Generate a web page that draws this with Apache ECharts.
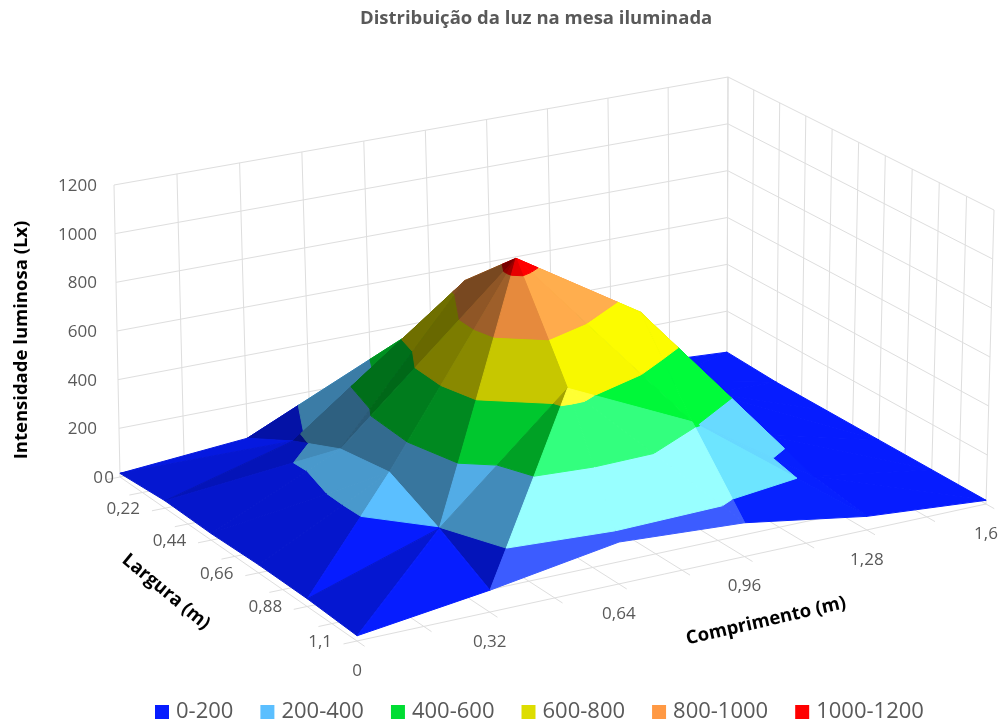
<!DOCTYPE html>
<html>
<head>
<meta charset="UTF-8">
<title>Distribuição da luz na mesa iluminada</title>
<script src="https://cdn.jsdelivr.net/npm/echarts@6/dist/echarts.min.js"></script>
<style>html,body{margin:0;padding:0;background:#fff}</style>
</head>
<body>
<div id="main" style="width:1002px;height:724px"></div>
<script>
// eixos
var comprimento = [0, 0.32, 0.64, 0.96, 1.28, 1.6];
var largura = [0, 0.22, 0.44, 0.66, 0.88, 1.1];
var compGrid = [0, 0.16, 0.32, 0.48, 0.64, 0.8, 0.96, 1.12, 1.28, 1.44, 1.6];
var largGrid = [0, 0.11, 0.22, 0.33, 0.44, 0.55, 0.66, 0.77, 0.88, 0.99, 1.1];
var luxTicks = [0, 200, 400, 600, 800, 1000, 1200];
var compLabels = ['0', '0,32', '0,64', '0,96', '1,28', '1,6'];
var largLabels = ['0', '0,22', '0,44', '0,66', '0,88', '1,1'];

// valores, uma linha por largura
var luxL000 = [15, 57, 180, 100, 55, 25];
var luxL022 = [30, 170, 530, 500, 120, 15];
var luxL044 = [26, 262, 850, 620, 190, 15];
var luxL066 = [32, 294, 1055, 741, 140, 15];
var luxL088 = [30, 197, 650, 415, 90, 15];
var luxL110 = [20, 85, 165, 135, 55, 15];
var lux = [luxL000, luxL022, luxL044, luxL066, luxL088, luxL110];

// faixas da legenda
var bandNames = ['0-200', '200-400', '400-600', '600-800', '800-1000', '1000-1200'];
var bandColors = [[6, 28, 255], [91, 191, 255], [0, 221, 51], [221, 221, 0], [255, 153, 68], [255, 0, 0]];
var bandStep = 200;

// brilho de cada face (Excel nao segue uma luz simples), [face de tras, face da frente]
var faceShade = [
	[[.88, .82], [1, .65], [1, 1], [1, 1], [1, 1]],
	[[.72, .8], [.5, .5], [1, 1], [1, 1], [1, 1]],
	[[.8, .8], [.47, .56], [1, 1], [1, 1], [1, 1]],
	[[.8, 1], [.62, .9], [1.14, 1.12], [1, 1.14], [1, 1]],
	[[.82, 1.02], [.73, 1.67], [1.67, 1.67], [1.13, 1.2], [1, 1]]
];

// cantos da caixa na tela: esquerda, fundo, direita, frente
var floorCorners = [[120, 477], [727, 358], [986, 504], [357, 641]];
var topCorners = [[114, 185], [728, 77], [994, 210], [365, 326]];

function homography(q) {
	var sx = q[0][0] - q[1][0] + q[2][0] - q[3][0], sy = q[0][1] - q[1][1] + q[2][1] - q[3][1];
	var dx1 = q[1][0] - q[2][0], dx2 = q[3][0] - q[2][0], dy1 = q[1][1] - q[2][1], dy2 = q[3][1] - q[2][1];
	var den = dx1 * dy2 - dx2 * dy1;
	var g = (sx * dy2 - dx2 * sy) / den, h = (dx1 * sy - sx * dy1) / den;
	var a = q[1][0] - q[0][0] + g * q[1][0], b = q[3][0] - q[0][0] + h * q[3][0];
	var d = q[1][1] - q[0][1] + g * q[1][1], e = q[3][1] - q[0][1] + h * q[3][1];
	return function(u, v) {
		var w = g * u + h * v + 1;
		return [(a * u + b * v + q[0][0]) / w, (d * u + e * v + q[0][1]) / w];
	};
}
var floorMap = homography(floorCorners), topMap = homography(topCorners);

function project(u, v, z) {
	var f = floorMap(u, v), t = topMap(u, v), k = z / 1200;
	return [f[0] + (t[0] - f[0]) * k, f[1] + (t[1] - f[1]) * k];
}

function shadeColor(c, b) {
	var out = c.map(function(ch) {
		var extra = (b > 1.3 && ch < 60) ? (b - 1) * (255 - ch) * 0.3 : 0;
		return Math.round(Math.min(255, ch * b + extra));
	});
	return 'rgb(' + out.join(',') + ')';
}

// corta o triangulo (u,v,z) entre dois niveis
function clipZ(poly, level, keepAbove) {
	var res = [];
	for (var i = 0; i < poly.length; i++) {
		var p = poly[i], q = poly[(i + 1) % poly.length];
		var pIn = keepAbove ? p[2] >= level : p[2] <= level;
		var qIn = keepAbove ? q[2] >= level : q[2] <= level;
		if (pIn) res.push(p);
		if (pIn !== qIn) {
			var t = (level - p[2]) / (q[2] - p[2]);
			res.push([p[0] + (q[0] - p[0]) * t, p[1] + (q[1] - p[1]) * t, level]);
		}
	}
	return res;
}

// monta os triangulos: a diagonal de cada quadrado e a de maior soma
var triangles = [];
var maxC = comprimento[comprimento.length - 1], maxL = largura[largura.length - 1];
function vertex(i, j) {
	return [comprimento[i] / maxC, largura[j] / maxL, lux[j][i]];
}
for (var j = 0; j < largura.length - 1; j++) {
	for (var i = 0; i < comprimento.length - 1; i++) {
		var a = vertex(i, j), b = vertex(i + 1, j), c = vertex(i + 1, j + 1), d = vertex(i, j + 1);
		var pair = (a[2] + c[2] >= b[2] + d[2]) ? [[a, b, c], [a, c, d]] : [[a, b, d], [b, c, d]];
		pair.forEach(function(tri, n) {
			var mu = (tri[0][0] + tri[1][0] + tri[2][0]) / 3, mv = (tri[0][1] + tri[1][1] + tri[2][1]) / 3;
			triangles.push({ pts: tri, shade: faceShade[j][i][n], depth: floorMap(mu, mv)[1] });
		});
	}
}
triangles.sort(function(p, q) { return p.depth - q.depth; });

function renderFace(params) {
	var tri = triangles[params.dataIndex], children = [];
	bandColors.forEach(function(col, n) {
		var poly = clipZ(tri.pts, n * bandStep, true);
		if (poly.length) poly = clipZ(poly, (n + 1) * bandStep, false);
		if (poly.length < 3) return;
		var fill = shadeColor(col, tri.shade);
		children.push({
			type: 'polygon',
			shape: { points: poly.map(function(p) { return project(p[0], p[1], p[2]); }) },
			style: { fill: fill, stroke: fill, lineWidth: 1 }
		});
	});
	return { type: 'group', children: children };
}

var lineColor = '#dedede', tickColor = '#595959', tickFont = '17px "Open Sans"';

function segment(p, q) {
	return {
		type: 'line',
		shape: { x1: p[0], y1: p[1], x2: q[0], y2: q[1] },
		style: { stroke: lineColor, lineWidth: 1 }
	};
}
function label(text, x, y, align) {
	return {
		type: 'text',
		style: { text: text, x: x, y: y, textAlign: align, textVerticalAlign: 'middle', fill: tickColor, font: tickFont }
	};
}

function renderFrame() {
	var kids = [];
	compGrid.forEach(function(c) {
		var u = c / maxC;
		kids.push(segment(project(u, 0, 0), project(u, 0, 1200)));
		kids.push(segment(project(u, 0, 0), project(u, 1.03, 0)));
	});
	largGrid.forEach(function(l) {
		var v = l / maxL;
		kids.push(segment(project(1, v, 0), project(1, v, 1200)));
		kids.push(segment(project(-0.02, v, 0), project(1, v, 0)));
	});
	luxTicks.forEach(function(z, n) {
		kids.push(segment(project(0, 0, z), project(1, 0, z)));
		kids.push(segment(project(1, 0, z), project(1, 1, z)));
		kids.push(label(String(z), z === 0 ? 103 : 97, project(0, 0, z)[1] + 1, 'right'));
	});
	compLabels.forEach(function(t, n) {
		var p = project(comprimento[n] / maxC, 1, 0);
		kids.push(label(t, p[0], p[1] + 30, 'center'));
	});
	largLabels.forEach(function(t, n) {
		var p = project(0, largura[n] / maxL, 0);
		kids.push(label(t, p[0] + (n === 0 ? -6 : -25), p[1] + 1, 'right'));
	});
	return { type: 'group', children: kids };
}

var series = [
	{ type: 'custom', name: 'frame', coordinateSystem: 'none', silent: true, z: 1, data: [0], renderItem: renderFrame },
	{ type: 'custom', name: 'surface', coordinateSystem: 'none', silent: true, z: 2, data: triangles.map(function(t, i) { return i; }), renderItem: renderFace }
];
// series vazias so para a legenda
bandNames.forEach(function(name, n) {
	series.push({
		type: 'custom', name: name, coordinateSystem: 'none', data: [],
		itemStyle: { color: 'rgb(' + bandColors[n].join(',') + ')' },
		renderItem: function() { return null; }
	});
});

var axisFont = 'bold 18.5px "Open Sans"';
var option = {
	animation: false,
	backgroundColor: '#fff',
	title: {
		text: 'Distribuição da luz na mesa iluminada',
		left: 355, top: 4,
		textStyle: { color: '#595959', fontFamily: 'Open Sans', fontSize: 18.5, fontWeight: 'bold' }
	},
	legend: {
		data: bandNames, left: 150, top: 696, icon: 'rect', itemWidth: 14, itemHeight: 14, itemGap: 27,
		selectedMode: false,
		textStyle: { color: '#595959', fontFamily: 'Open Sans', fontSize: 22, padding: [0, 0, 0, 2] }
	},
	graphic: [
		{ type: 'text', x: 22, y: 340, rotation: Math.PI / 2, style: { text: 'Intensidade luminosa (Lx)', textAlign: 'center', textVerticalAlign: 'middle', fill: '#000', font: axisFont } },
		{ type: 'text', x: 166, y: 592, rotation: -0.69, style: { text: 'Largura (m)', textAlign: 'center', textVerticalAlign: 'middle', fill: '#000', font: axisFont } },
		{ type: 'text', x: 766, y: 621, rotation: 0.226, style: { text: 'Comprimento (m)', textAlign: 'center', textVerticalAlign: 'middle', fill: '#000', font: axisFont } }
	],
	series: series
};

var myChart = echarts.init(document.getElementById('main'));
myChart.setOption(option);
</script>
</body>
</html>
